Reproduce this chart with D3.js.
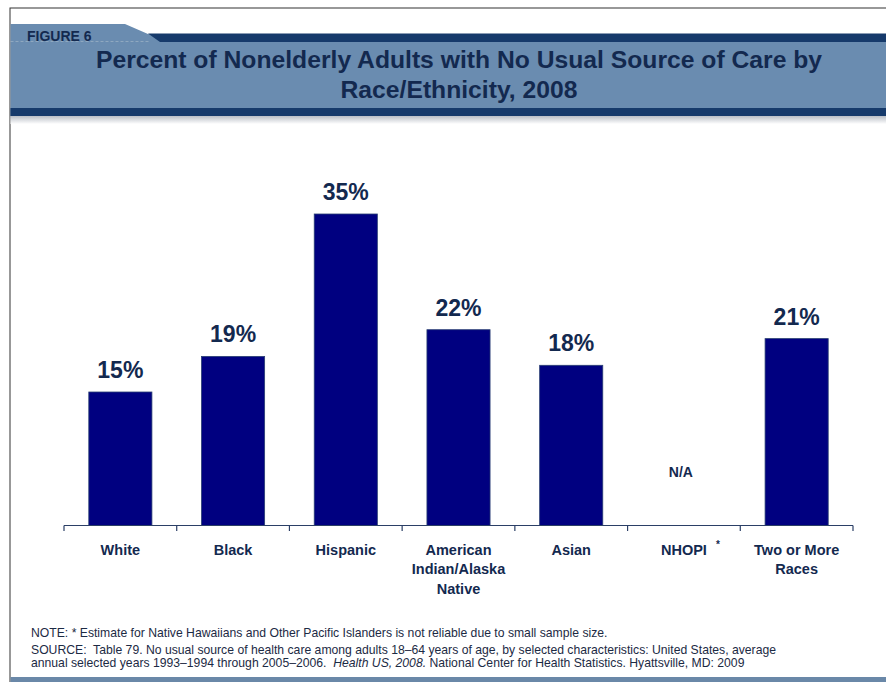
<!DOCTYPE html>
<html>
<head>
<meta charset="utf-8">
<script src="https://cdn.jsdelivr.net/npm/d3@7"></script>
<style>
  html, body { margin: 0; padding: 0; background: #fff; }
  svg { display: block; font-family: "Liberation Sans", Arial, Helvetica, sans-serif; }
</style>
</head>
<body>
<svg id="chart" width="886" height="682"></svg>
<script>
// Percent of nonelderly adults with no usual source of care, 2008
const categories = ["White", "Black", "Hispanic", "American Indian/Alaska Native", "Asian", "NHOPI", "Two or More Races"];
const categoryLines = [["White"], ["Black"], ["Hispanic"], ["American", "Indian/Alaska", "Native"], ["Asian"], ["NHOPI"], ["Two or More", "Races"]];
const values = [15, 19, 35, 22, 18, null, 21];
const titleLines = ["Percent of Nonelderly Adults with No Usual Source of Care by", "Race/Ethnicity, 2008"];
const notes = [
  "NOTE: * Estimate for Native Hawaiians and Other Pacific Islanders is not reliable due to small sample size.",
  "SOURCE:  Table 79. No usual source of health care among adults 18\u201364 years of age, by selected characteristics: United States, average",
  "annual selected years 1993\u20131994 through 2005\u20132006.  |Health US, 2008.| National Center for Health Statistics. Hyattsville, MD: 2009"
];

const svg = d3.select("#chart");
const W = 886, H = 682;

const bandLight = "#6a8cb0";
const bandDark = "#163a6b";
const textNavy = "#13294f";

// slide frame
svg.append("rect").attr("x", 10).attr("y", 8).attr("width", W).attr("height", H)
  .attr("fill", "#fff").attr("stroke", "#333").attr("stroke-width", 1);

// header band with tab
const defs = svg.append("defs");
const shadow = defs.append("linearGradient").attr("id", "shade").attr("x1", 0).attr("y1", 0).attr("x2", 0).attr("y2", 1);
shadow.append("stop").attr("offset", "0%").attr("stop-color", "#b9bec6");
shadow.append("stop").attr("offset", "100%").attr("stop-color", "#ffffff");

svg.append("rect").attr("x", 10.5).attr("y", 116).attr("width", W).attr("height", 8).attr("fill", "url(#shade)");
svg.append("path")
  .attr("d", "M10.5,24 L125,24 L148,34 L886,34 L886,116 L10.5,116 Z")
  .attr("fill", bandLight);
svg.append("path")
  .attr("d", "M148,33.5 L886,33.5 L886,42 L160,42 Z")
  .attr("fill", bandDark);
svg.append("line").attr("x1", 10.5).attr("x2", 150).attr("y1", 41.5).attr("y2", 41.5)
  .attr("stroke", "#9fb4c8").attr("stroke-width", 1).attr("stroke-dasharray", "3,2").attr("opacity", 0.7);
svg.append("rect").attr("x", 10.5).attr("y", 108).attr("width", W).attr("height", 8).attr("fill", bandDark);

svg.append("text").attr("x", 27).attr("y", 40.5)
  .attr("font-size", 14).attr("font-weight", "bold").attr("fill", textNavy)
  .text("FIGURE 6");

svg.append("g").selectAll("text").data(titleLines).join("text")
  .attr("x", 459).attr("y", (d, i) => 68 + i * 30)
  .attr("text-anchor", "middle")
  .attr("font-size", 24.7).attr("font-weight", "bold").attr("fill", textNavy)
  .text(d => d);

// plot area
const x = d3.scaleBand().domain(categories).range([64, 853]).paddingInner(0.44).paddingOuter(0.22);
const y = d3.scaleLinear().domain([0, 40]).range([525.5, 169.5]);

const bars = categories.map((c, i) => ({ c, v: values[i], lines: categoryLines[i] }));

svg.append("g").selectAll("rect").data(bars.filter(d => d.v != null)).join("rect")
  .attr("x", d => x(d.c)).attr("width", x.bandwidth())
  .attr("y", d => y(d.v)).attr("height", d => y(0) - y(d.v))
  .attr("fill", "#000080").attr("stroke", "#2a3f73").attr("stroke-width", 0.8);

// value labels
svg.append("g").selectAll("text").data(bars).join("text")
  .attr("x", d => x(d.c) + x.bandwidth() / 2 + (d.v != null ? 0 : -3))
  .attr("y", d => d.v != null ? y(d.v) - 14 : 477)
  .attr("text-anchor", "middle").attr("font-weight", "bold").attr("fill", textNavy)
  .attr("font-size", d => d.v != null ? 23 : 14)
  .text(d => d.v != null ? d.v + "%" : "N/A");

// category axis with boundary ticks
const axisG = svg.append("g");
axisG.append("line").attr("x1", 64).attr("x2", 853).attr("y1", 525.5).attr("y2", 525.5)
  .attr("stroke", "#2b3f66").attr("stroke-width", 1.2);
axisG.selectAll("line.tick").data(d3.range(categories.length + 1)).join("line")
  .attr("class", "tick")
  .attr("x1", i => 64 + i * x.step())
  .attr("x2", i => 64 + i * x.step())
  .attr("y1", 525.5).attr("y2", 531)
  .attr("stroke", "#2b3f66").attr("stroke-width", 1.2);

const labelG = svg.append("g").selectAll("text").data(bars).join("text")
  .attr("x", d => x(d.c) + x.bandwidth() / 2)
  .attr("y", 555)
  .attr("text-anchor", "middle").attr("font-size", 14.5).attr("font-weight", "bold").attr("fill", textNavy);
labelG.selectAll("tspan").data(d => d.lines.map(l => ({ l, cx: x(d.c) + x.bandwidth() / 2 }))).join("tspan")
  .attr("x", d => d.cx).attr("dy", (d, i) => i === 0 ? 0 : 19.3)
  .text(d => d.l);

// asterisk next to NHOPI
svg.append("text").attr("x", x("NHOPI") + x.bandwidth() / 2 + 34).attr("y", 548)
  .attr("text-anchor", "middle").attr("font-size", 10).attr("font-weight", "bold").attr("fill", textNavy)
  .text("*");

// footnotes (segments between bars are italic)
const noteG = svg.append("g").selectAll("text").data(notes).join("text")
  .attr("x", 31).attr("y", (d, i) => [637, 654, 667][i])
  .attr("font-size", 12.2).attr("fill", "#1c2a44")
  .style("white-space", "pre");
noteG.selectAll("tspan").data(d => d.split("|").map((s, i) => ({ s, it: i % 2 === 1 }))).join("tspan")
  .attr("font-style", d => d.it ? "italic" : "normal")
  .text(d => d.s);

// bottom band
svg.append("rect").attr("x", 10.5).attr("y", 677).attr("width", W).attr("height", 6).attr("fill", "#6a88a8");
</script>
</body>
</html>
